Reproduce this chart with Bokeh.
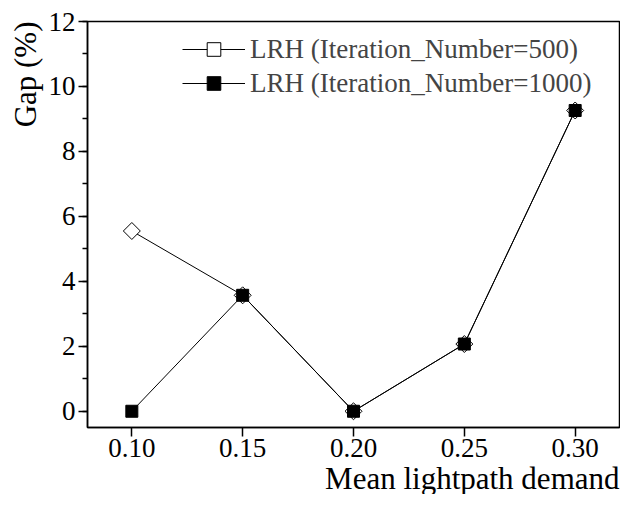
import math
from bokeh.plotting import figure
from bokeh.models import FixedTicker, SingleIntervalTicker, Range1d, Title
from bokeh.embed import file_html
from bokeh.resources import INLINE

demand = [0.10, 0.15, 0.20, 0.25, 0.30]
gap_500 = [5.55, 3.57, 0.0, 2.07, 9.26]
gap_1000 = [0.0, 3.57, 0.0, 2.07, 9.26]
x_ticks = [0.10, 0.15, 0.20, 0.25, 0.30]
x_tick_labels = {0.10: "0.10", 0.15: "0.15", 0.20: "0.20", 0.25: "0.25", 0.30: "0.30"}
x_title = "Mean lightpath demand"
y_title = "Gap (%)"
labels = ["LRH (Iteration_Number=500)", "LRH (Iteration_Number=1000)"]

FONT = "Times New Roman"
xr = Range1d(0.08, 0.32)
yr = Range1d(-0.5, 12)

p = figure(width=620, height=494, output_backend="svg", toolbar_location=None,
           x_range=xr, y_range=yr,
           min_border_left=87, min_border_right=1, min_border_top=21, min_border_bottom=0)

p.line(demand, gap_500, line_color="black", line_width=1, legend_label=labels[0])
p.scatter(demand, gap_500, marker="square", angle=math.pi / 4, size=12, fill_color="white",
          line_color="black", line_width=1, legend_label=labels[0])
p.line(demand, gap_1000, line_color="black", line_width=1, legend_label=labels[1])
p.scatter(demand, gap_1000, marker="square", size=12, fill_color="black", line_color="black",
          legend_label=labels[1])

p.xgrid.visible = False
p.ygrid.visible = False
p.outline_line_color = "black"
p.outline_line_width = 1.5

p.xaxis.ticker = FixedTicker(ticks=x_ticks)
p.xaxis.major_label_overrides = x_tick_labels
p.yaxis.ticker = SingleIntervalTicker(interval=2, num_minor_ticks=2)

for ax in (p.xaxis[0], p.yaxis[0]):
    ax.axis_line_width = 1.5
    ax.major_tick_line_width = 1.5
    ax.minor_tick_line_width = 1.5
    ax.major_tick_in = 0
    ax.major_tick_out = 9
    ax.minor_tick_in = 0
    ax.minor_tick_out = 5
    ax.major_label_text_font = FONT
    ax.major_label_text_font_size = "27px"
    ax.major_label_text_color = "black"

p.xaxis.minor_tick_line_color = None
p.xaxis.major_label_standoff = 2
p.yaxis.major_label_standoff = 3

p.add_layout(Title(text=x_title, align="right", text_font=FONT, text_font_size="31px",
                   text_font_style="normal", text_color="black", standoff=-2), "below")
p.add_layout(Title(text=y_title, align="right", text_font=FONT, text_font_size="31px",
                   text_font_style="normal", text_color="black", standoff=5), "left")

lg = p.legend[0]
lg.location = "top_right"
lg.border_line_color = None
lg.background_fill_alpha = 0
lg.label_text_font = FONT
lg.label_text_font_size = "27px"
lg.glyph_width = 63
lg.glyph_height = 34
lg.label_height = 34
lg.label_width = 358
lg.label_standoff = 5
lg.spacing = 0
lg.margin = 11
lg.padding = 11

open("out.html", "w").write(file_html(p, INLINE))
